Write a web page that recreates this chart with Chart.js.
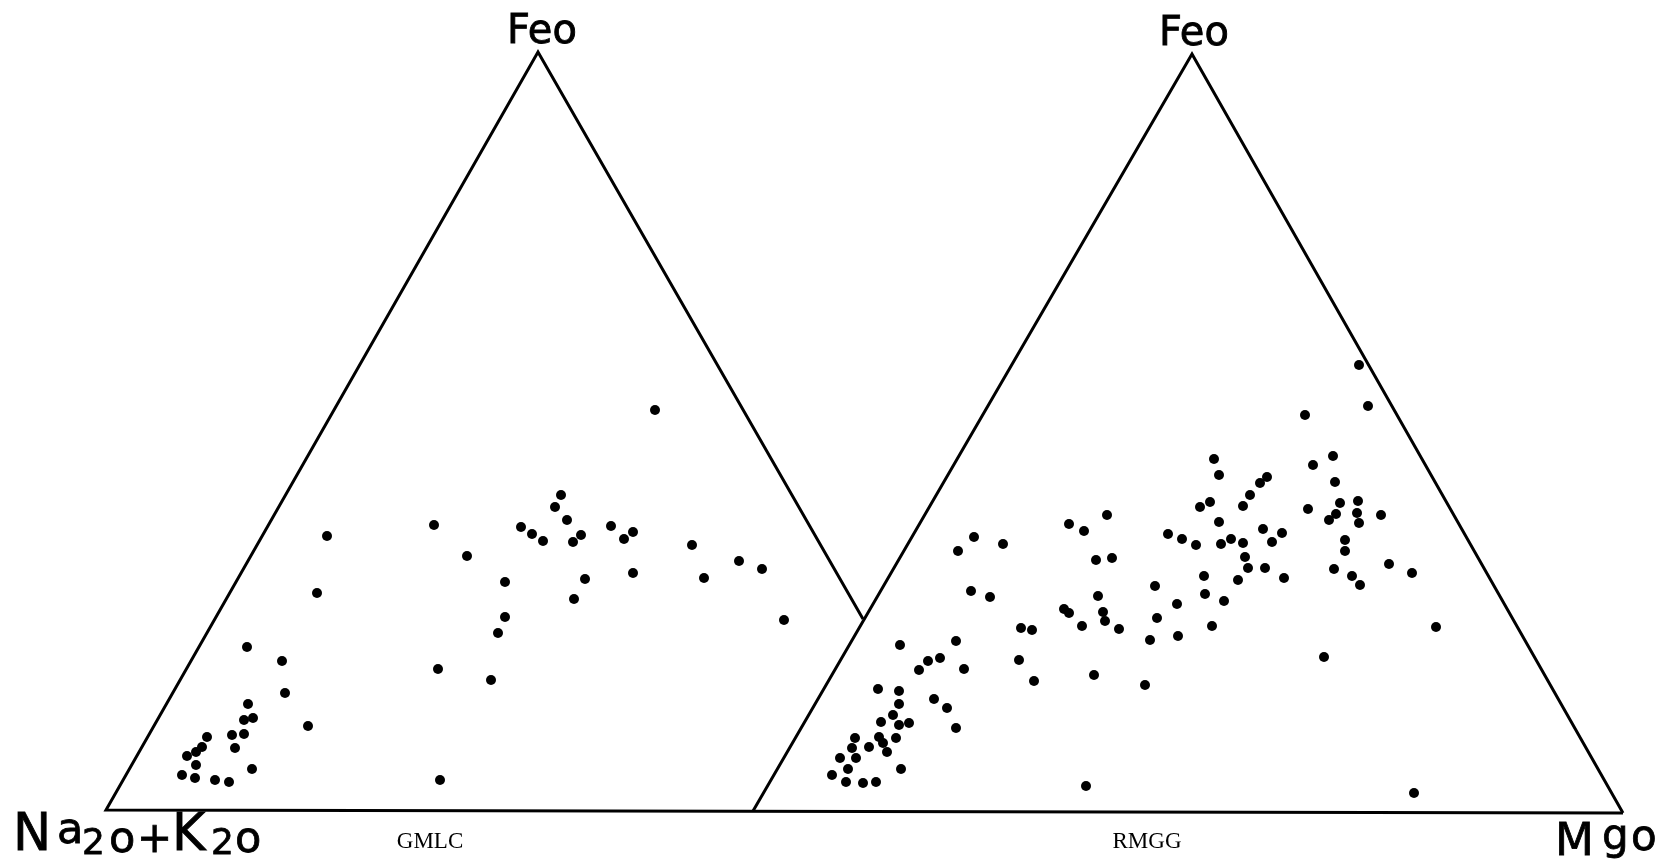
<!DOCTYPE html>
<html>
<head>
<meta charset="utf-8">
<script src="https://cdn.jsdelivr.net/npm/chart.js@4/dist/chart.umd.min.js"></script>
<style>
  html, body { margin: 0; padding: 0; background: #fff; }
  #wrap { width: 1667px; height: 863px; position: relative; }
</style>
</head>
<body>
<div id="wrap"><canvas id="c"></canvas></div>
<script>
// ---- data (in picture units: x right, y down) ----
const sampleNames = ["GMLC", "RMGG"];
const apexLabel = "Feo";
const leftCornerLabel = "Na2o+K2o";
const rightCornerLabel = "Mgo";

// GMLC triangle frame (right side stops where it meets the RMGG triangle)
const gmlcFrame = [[863, 619], [538, 52], [106, 810], [1623, 813]];
// RMGG triangle frame
const rmggFrame = [[753, 811], [1192, 54], [1623, 813]];

const gmlcPoints = [
  [434,525],[467,556],[327,536],[317,593],[247,647],[282,661],[438,669],[285,693],
  [248,704],[244,720],[253,718],[308,726],[207,737],[232,735],[244,734],[202,747],
  [235,748],[196,752],[187,756],[196,765],[252,769],[182,775],[195,778],[215,780],
  [229,782],[440,780],
  [655,410],[561,495],[555,507],[521,527],[532,534],[543,541],[567,520],[581,535],
  [573,542],[611,526],[624,539],[633,532],[692,545],[739,561],[762,569],[704,578],
  [633,573],[585,579],[505,582],[574,599],[784,620],[505,617],[498,633],[491,680]
];

const rmggPoints = [
  [974,537],[1003,544],[958,551],[1069,524],[1084,531],[1107,515],[1096,560],[1112,558],
  [971,591],[990,597],[1098,596],[1064,609],[1069,613],[1103,612],[1105,621],[1082,626],
  [1021,628],[1032,630],[900,645],[956,641],[940,658],[928,661],[919,670],[964,669],
  [1019,660],[1034,681],[1094,675],[878,689],[899,691],[899,704],[934,699],[947,708],
  [893,715],[881,722],[899,725],[909,723],[956,728],[855,738],[879,737],[883,743],
  [896,738],[852,748],[869,747],[887,752],[856,758],[840,758],[848,769],[901,769],
  [832,775],[846,782],[863,783],[876,782],[1086,786],
  [1214,459],[1219,475],[1313,465],[1333,456],[1267,477],[1260,483],[1250,495],[1243,506],
  [1210,502],[1200,507],[1335,482],[1308,509],[1336,514],[1329,520],[1219,522],[1168,534],
  [1182,539],[1196,545],[1221,544],[1231,539],[1243,543],[1263,529],[1282,533],[1272,542],
  [1245,557],[1248,568],[1265,568],[1238,580],[1284,578],[1334,569],[1204,576],[1205,594],
  [1224,601],[1155,586],[1177,604],[1157,618],[1212,626],[1150,640],[1178,636],[1119,629],
  [1145,685],[1324,657],
  [1359,365],[1368,406],[1305,415],[1340,503],[1358,501],[1357,513],[1359,523],[1381,515],
  [1345,540],[1345,551],[1352,576],[1360,585],[1389,564],[1412,573],[1436,627],[1414,793]
];

const toXY = arr => arr.map(p => ({x: p[0], y: p[1]}));

// ---- text plugin ----
const labelsPlugin = {
  id: 'ternaryLabels',
  beforeDraw(chart) {
    const ctx = chart.ctx;
    ctx.save();
    ctx.fillStyle = '#fff';
    ctx.fillRect(0, 0, chart.width, chart.height);
    ctx.restore();
  },
  afterDraw(chart) {
    const ctx = chart.ctx;
    const sx = chart.scales.x, sy = chart.scales.y;
    const X = v => sx.getPixelForValue(v), Y = v => sy.getPixelForValue(v);
    ctx.save();
    ctx.fillStyle = '#000';
    ctx.strokeStyle = '#000';
    ctx.lineWidth = 0.8;
    ctx.textBaseline = 'alphabetic';
    const draw = (t, x, y) => { ctx.fillText(t, x, y); ctx.strokeText(t, x, y); };

    // apex labels
    ctx.font = '40px "DejaVu Sans"';
    ctx.textAlign = 'center';
    draw(apexLabel, X(gmlcFrame[1][0] + 4), Y(43));
    draw(apexLabel, X(rmggFrame[1][0] + 2), Y(45));

    // sample names (serif)
    ctx.font = '23px "Liberation Serif"';
    ctx.fillText(sampleNames[0], X(430), Y(848));
    ctx.fillText(sampleNames[1], X(1147), Y(848));

    // left corner: N a 2 o + K 2 o  (lettering-guide style, subscripts lowered)
    ctx.textAlign = 'left';
    const chars = leftCornerLabel.split('');
    const big = '51px "DejaVu Sans"', small = '43px "DejaVu Sans"', sub = '36px "DejaVu Sans"';
    const glyphs = [
      {f: big,   x: 13,  y: 850},
      {f: small, x: 57,  y: 843},
      {f: sub,   x: 82,  y: 854},
      {f: small, x: 109, y: 852},
      {f: '42px "DejaVu Sans"', x: 137, y: 852},
      {f: big,   x: 172, y: 850},
      {f: sub,   x: 211, y: 854},
      {f: small, x: 235, y: 852}
    ];
    chars.forEach((ch, i) => {
      const g = glyphs[i];
      ctx.font = g.f;
      draw(ch, X(g.x), Y(g.y));
    });

    // right corner: M g o
    const rc = rightCornerLabel.split('');
    const rg = [
      {f: '45px "DejaVu Sans"', x: 1555, y: 855},
      {f: '42px "DejaVu Sans"', x: 1602, y: 849},
      {f: '42px "DejaVu Sans"', x: 1631, y: 850}
    ];
    rc.forEach((ch, i) => {
      ctx.font = rg[i].f;
      draw(ch, X(rg[i].x), Y(rg[i].y));
    });
    ctx.restore();
  }
};

const lineStyle = {
  type: 'line', showLine: true, borderColor: '#000', borderWidth: 3,
  pointRadius: 0, fill: false, tension: 0, borderJoinStyle: 'miter'
};

new Chart(document.getElementById('c'), {
  type: 'scatter',
  data: {
    datasets: [
      Object.assign({label: 'frame GMLC', data: toXY(gmlcFrame)}, lineStyle),
      Object.assign({label: 'frame RMGG', data: toXY(rmggFrame)}, lineStyle),
      {label: sampleNames[0], data: toXY(gmlcPoints), pointRadius: 5, pointBackgroundColor: '#000', pointBorderWidth: 0, showLine: false},
      {label: sampleNames[1], data: toXY(rmggPoints), pointRadius: 5, pointBackgroundColor: '#000', pointBorderWidth: 0, showLine: false}
    ]
  },
  options: {
    responsive: true,
    maintainAspectRatio: false,
    animation: false,
    layout: { padding: 0, autoPadding: false },
    plugins: { legend: { display: false }, tooltip: { enabled: false } },
    scales: {
      x: { type: 'linear', min: 0, max: 1667, display: false },
      y: { type: 'linear', min: 0, max: 863, reverse: true, display: false }
    }
  },
  plugins: [labelsPlugin]
});
</script>
</body>
</html>
